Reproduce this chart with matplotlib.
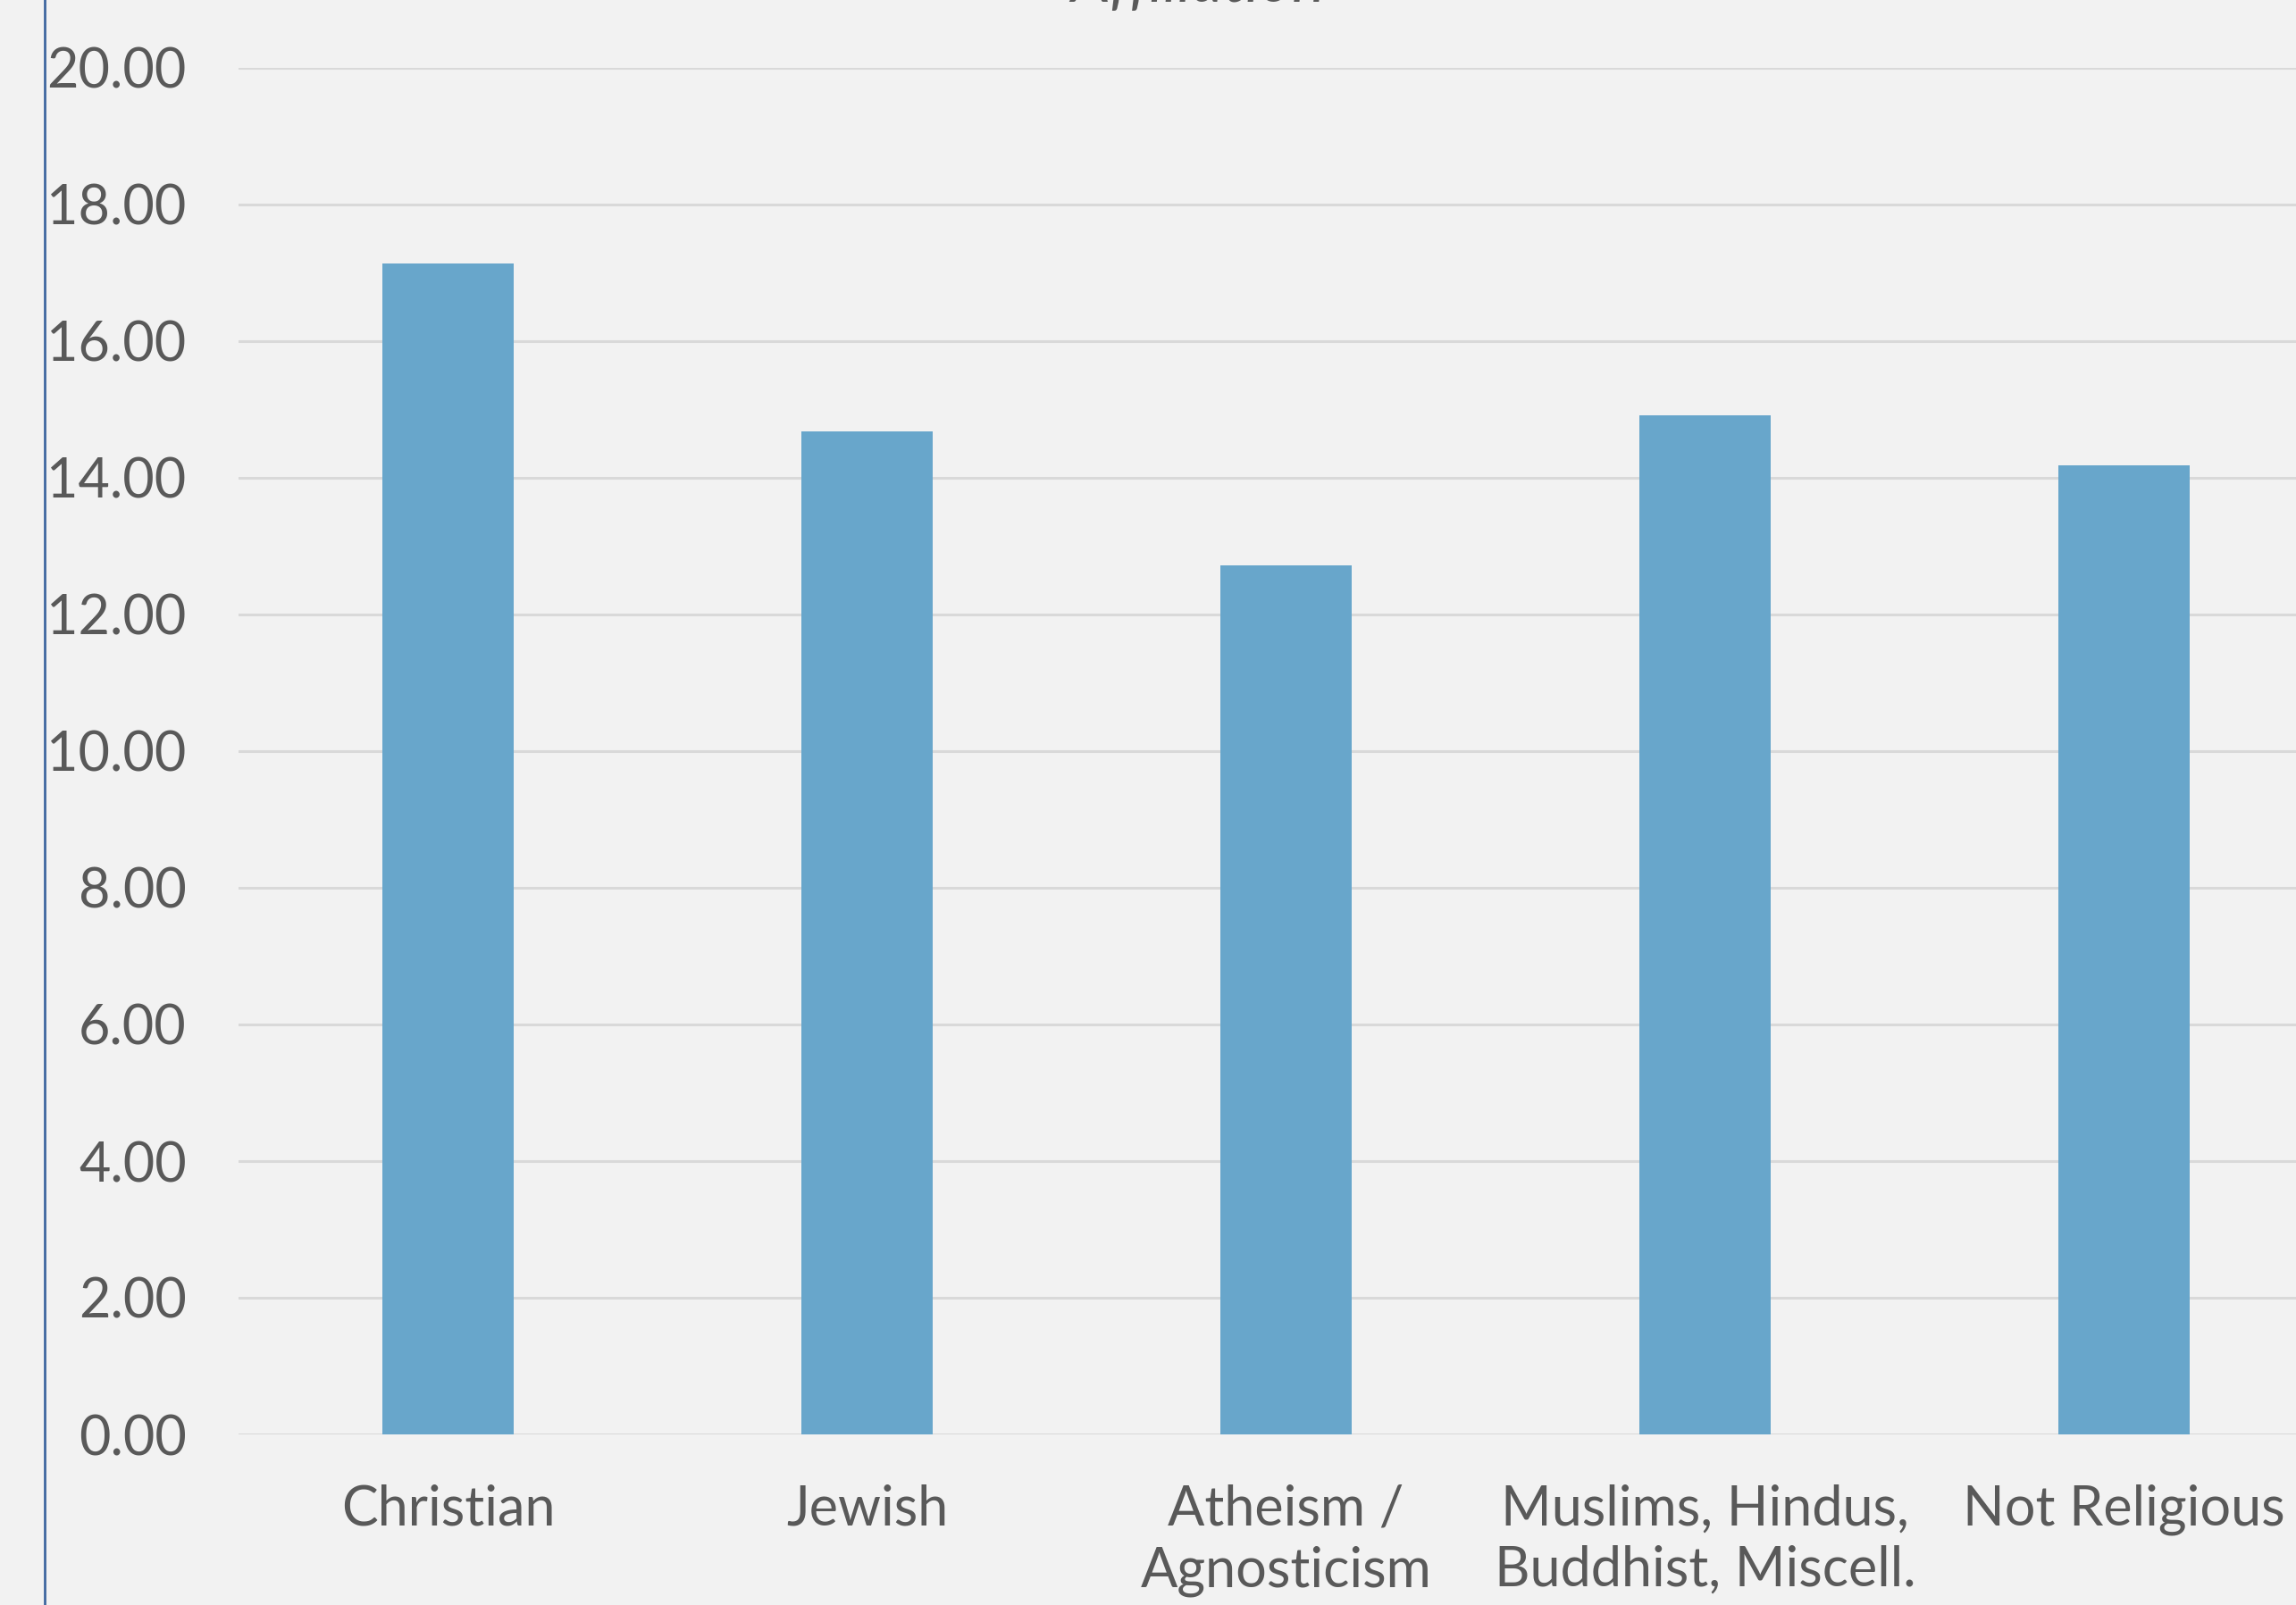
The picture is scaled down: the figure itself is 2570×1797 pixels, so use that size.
import numpy as np
import matplotlib.pyplot as plt
from matplotlib.lines import Line2D

# data
categories = ['Christian', 'Jewish', 'Atheism /\nAgnosticism',
              'Muslims, Hindus,\nBuddhist, Miscell.', 'Not Religious']
values = [17.14, 14.68, 12.72, 14.92, 14.18]
yticks = [0, 2, 4, 6, 8, 10, 12, 14, 16, 18, 20]

bg = '#F2F2F2'
txt = '#595959'

plt.rcParams['font.family'] = ['Lato', 'DejaVu Sans']

fig = plt.figure(figsize=(25.7, 17.97), dpi=100, facecolor=bg)
# plot area runs past the right edge, as in the cropped original
ax = fig.add_axes([267 / 2570, 191 / 1797, 2345 / 2570, 1530 / 1797])
ax.set_facecolor(bg)

x = np.arange(len(categories))
ax.bar(x, values, width=0.315, color='#68A6CB', zorder=3)

ax.set_xlim(-0.5, len(categories) - 0.5)
ax.set_ylim(0, 20)
ax.set_yticks(yticks)
ax.set_yticklabels(['%.2f' % v for v in yticks])
ax.set_xticks(x)
ax.set_xticklabels(categories, linespacing=1.25)

ax.grid(axis='y', color='#D9D9D9', linewidth=2.2, zorder=0)
for s in ax.spines.values():
    s.set_visible(False)
ax.tick_params(axis='both', length=0, colors=txt, labelsize=44)
ax.tick_params(axis='y', pad=42)
ax.tick_params(axis='x', pad=40)

# bottom of the (cut off) title
fig.text(1341 / 2570, 1 - 2 / 1797, 'Affiliation', ha='center', va='baseline',
         fontsize=50, style='italic', color=txt)

# left border line
fig.add_artist(Line2D([50 / 2570, 50 / 2570], [0, 1], color='#3F67A0',
                      linewidth=2, transform=fig.transFigure))

fig.savefig('out.png', dpi=100, facecolor=bg)
